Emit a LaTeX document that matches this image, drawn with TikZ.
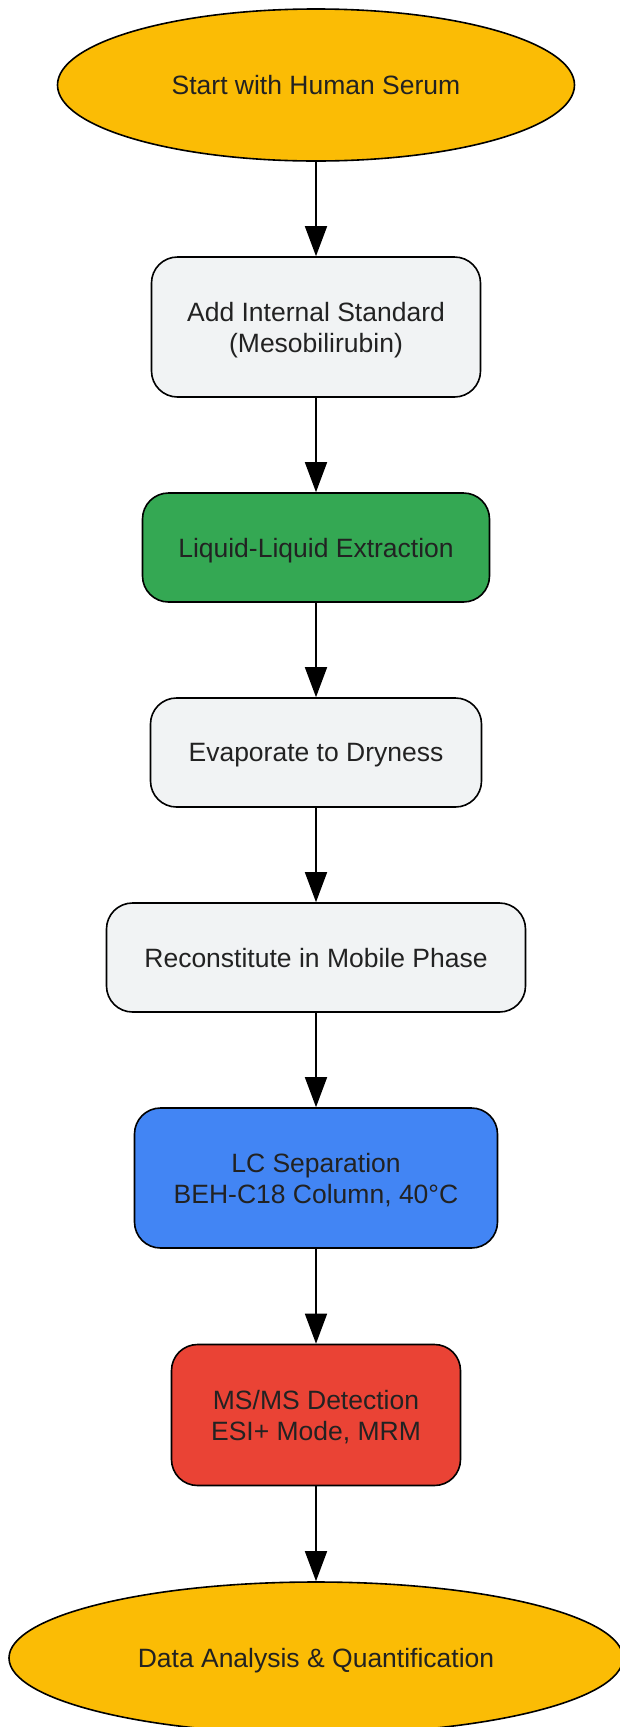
\documentclass[tikz,border=0pt]{standalone}
\usepackage{fontspec}
\setmainfont{Liberation Sans}
\usetikzlibrary{shapes.geometric,arrows.meta}
\definecolor{gyellow}{HTML}{FBBC05}
\definecolor{ggreen}{HTML}{34A853}
\definecolor{gblue}{HTML}{4285F4}
\definecolor{gred}{HTML}{EA4335}
\definecolor{ggray}{HTML}{F1F3F4}
\definecolor{txt}{HTML}{222222}
\tikzset{
  base/.style={draw=black, line width=1.6pt, text=txt, align=center, inner sep=0pt,
    text depth=0pt, font=\fontsize{26.5}{31}\selectfont},
  term/.style={base, ellipse, fill=gyellow, minimum height=152pt},
  stepbox/.style={base, rectangle, rounded corners=26pt, minimum height=109pt},
  flow/.style={draw=black, line width=1.6pt, -{Triangle[width=22pt,length=30pt]}}
}
\begin{document}
\begin{tikzpicture}[x=1pt,y=-1pt]
\useasboundingbox (0,0) rectangle (619,1727);
\fill[white] (0,0) rectangle (619,1727);
\node[term, minimum width=517pt] (start) at (316,85) {Start with Human Serum};
\node[stepbox, fill=ggray, minimum width=329pt, minimum height=140pt] (add) at (316,327) {Add Internal Standard\\(Mesobilirubin)};
\node[stepbox, fill=ggreen, minimum width=347pt] (lle) at (316,547.5) {Liquid-Liquid Extraction};
\node[stepbox, fill=ggray, minimum width=331pt] (evap) at (316,752.5) {Evaporate to Dryness};
\node[stepbox, fill=ggray, minimum width=419pt] (recon) at (316,957.5) {Reconstitute in Mobile Phase};
\node[stepbox, fill=gblue, minimum width=363pt, minimum height=140pt] (lc) at (316,1178) {LC Separation\\BEH-C18 Column, 40°C};
\node[stepbox, fill=gred, minimum width=289pt, minimum height=141pt] (ms) at (316,1415) {MS/MS Detection\\ESI+ Mode, MRM};
\node[term, minimum width=614pt] (data) at (316,1658) {Data Analysis \& Quantification};
\draw[flow] (start) -- (add);
\draw[flow] (add) -- (lle);
\draw[flow] (lle) -- (evap);
\draw[flow] (evap) -- (recon);
\draw[flow] (recon) -- (lc);
\draw[flow] (lc) -- (ms);
\draw[flow] (ms) -- (data);
\end{tikzpicture}
\end{document}
